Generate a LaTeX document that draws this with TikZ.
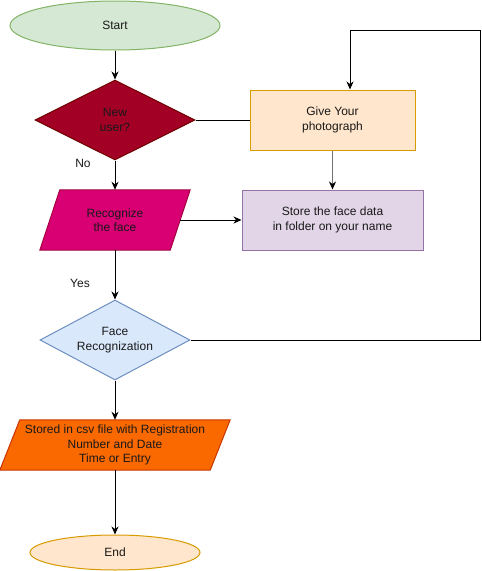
\documentclass[tikz,border=0pt]{standalone}
\usepackage{fontspec}
\setmainfont{Liberation Sans}
\usetikzlibrary{shapes.geometric,arrows.meta,calc}

\definecolor{startfill}{HTML}{D5E8D4}
\definecolor{startline}{HTML}{82B366}
\definecolor{newfill}{HTML}{A20025}
\definecolor{newline}{HTML}{6F0000}
\definecolor{givefill}{HTML}{FFE6CC}
\definecolor{giveline}{HTML}{D79B00}
\definecolor{recfill}{HTML}{D80073}
\definecolor{recline}{HTML}{A50040}
\definecolor{storefill}{HTML}{E1D5E7}
\definecolor{storeline}{HTML}{9673A6}
\definecolor{facefill}{HTML}{DAE8FC}
\definecolor{faceline}{HTML}{6C8EBF}
\definecolor{csvfill}{HTML}{FA6800}
\definecolor{csvline}{HTML}{C73500}

\tikzset{
  every node/.style={font=\fontsize{12}{14.5}\selectfont, align=center, inner sep=0pt, text=black!90},
  shapeline/.style={line width=1pt},
  terminal/.style={ellipse, shapeline},
  decision/.style={diamond, shapeline},
  process/.style={rectangle, shapeline},
  iobox/.style={rectangle},
  flow/.style={line width=1pt, -{Stealth[length=8pt,width=7pt,inset=2.5pt]}},
  grayflow/.style={line width=1pt, draw=black!55, -{Stealth[length=8pt,width=7pt,inset=2.5pt,color=black]}},
  plainflow/.style={line width=1pt},
  lbl/.style={font=\fontsize{12}{14}\selectfont}
}

\begin{document}
\begin{tikzpicture}[x=1pt,y=-1pt]
\useasboundingbox (0,0) rectangle (482,571);

% terminals
\node[terminal, draw=startline, fill=startfill, minimum width=210, minimum height=49] (start) at (115,25.5) {Start};
\node[terminal, draw=giveline, fill=givefill, minimum width=170, minimum height=35] (end) at (115,552.5) {End};

% decisions
\node[decision, aspect=2, draw=newline, fill=newfill, minimum width=160, minimum height=80] (newu) at (115,120) {New\\user?};
\node[decision, aspect=1.875, draw=faceline, fill=facefill, minimum width=150, minimum height=80] (face) at (115,340) {Face\\Recognization};

% processes
\node[process, draw=giveline, fill=givefill, minimum width=165, minimum height=60] (give) at (332.5,120) {Give Your\\photograph};
\node[process, draw=storeline, fill=storefill, minimum width=181, minimum height=60] (store) at (332.5,220) {Store the face data\\in folder on your name};

% input/output parallelograms: a sized frame, then the slanted outline behind the text
\node[iobox, minimum width=150, minimum height=60] (rec) at (115,220) {};
\filldraw[shapeline, draw=recline, fill=recfill]
  (rec.south west) -- ($(rec.north west)+(20,0)$) -- (rec.north east) -- ($(rec.south east)+(-20,0)$) -- cycle;
\node at (rec.center) {Recognize\\the face};

\node[iobox, minimum width=230, minimum height=50] (csv) at (115,445) {};
\filldraw[shapeline, draw=csvline, fill=csvfill]
  (csv.south west) -- ($(csv.north west)+(20,0)$) -- (csv.north east) -- ($(csv.south east)+(-20,0)$) -- cycle;
\node at (csv.center) {Stored in csv file with Registration\\Number and Date\\Time or Entry};

% connectors
\draw[flow] (start.south) -- (newu.north);
\draw[flow] (newu.south) -- (rec.north);
\draw[plainflow] (newu.east) -- (give.west);
\draw[grayflow] (give.south) -- (store.north);
\draw[flow] ($(rec.east)+(-10,0)$) -- (store.west);
\draw[flow] (rec.south) -- (face.north);
\coordinate (loopcorner) at (480,30);
\draw[flow] (face.east) -| (loopcorner) -| ($(give.north)+(17.5,0)$);
\draw[flow] (face.south) -- (csv.north);
\draw[flow] (csv.south) -- (end.north);

% branch labels
\node[lbl] (nolbl) at (83,163) {No};
\node[lbl] (yeslbl) at (80,283) {Yes};
\end{tikzpicture}
\end{document}
